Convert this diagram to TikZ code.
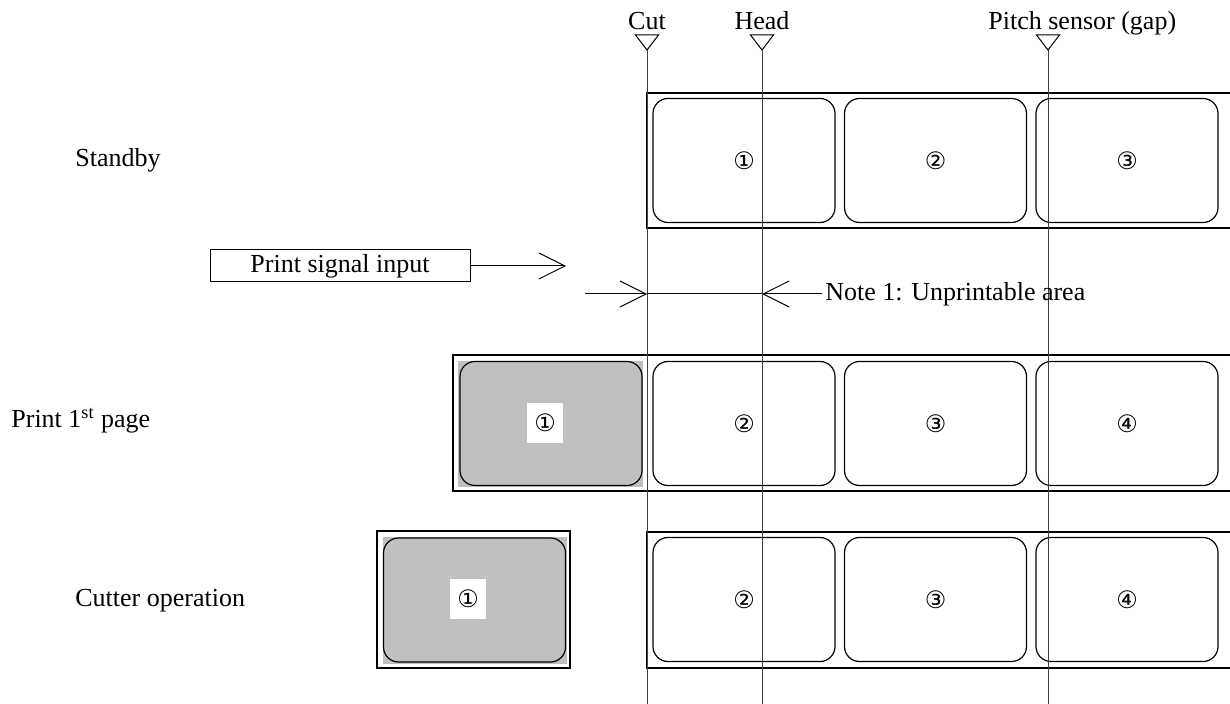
\documentclass[tikz,border=0pt]{standalone}
\usepackage{fontspec}
\setmainfont{Liberation Serif}
\newfontfamily\circfont{DejaVu Sans}
\usetikzlibrary{arrows.meta}
\definecolor{labelgray}{RGB}{192,192,192}

\begin{document}
\begin{tikzpicture}[x=0.5pt, y=-0.5pt, font=\fontsize{13}{15}\selectfont,
    strip/.style={line width=0.8pt},
    labelbox/.style={draw, line width=0.6pt, rounded corners=7.5pt, minimum width=91pt, minimum height=62pt, inner sep=0pt, font=\circfont\fontsize{12}{12}\selectfont},
    whitenum/.style={fill=white, minimum width=18pt, minimum height=20pt, inner sep=0pt, font=\circfont\fontsize{12}{12}\selectfont},
    rowname/.style={anchor=west, inner sep=0pt},
    guide/.style={line width=0.45pt, black!75},
    openarrow/.style={line width=0.5pt, -{Straight Barb[length=13pt, width=13pt, line width=0.5pt]}}
]
\useasboundingbox (0,0) rectangle (1230,704);

% Row names
\node[rowname] (standby) at (75,160) {Standby};
\node[rowname] (printrow) at (11,421) {Print 1\textsuperscript{st} page};
\node[rowname] (cutrow) at (75,601) {Cutter operation};

% Standby strip
\draw[strip] (1230,93) -| (647,228) -- (1230,228);
\foreach \n/\x/\num in {1/744/①, 2/935.5/②, 3/1127/③}
    \node[labelbox] (sb-\n) at (\x,160.5) {\num};

% Print 1st page strip
\draw[strip] (1230,355) -| (453,491) -- (1230,491);
\fill[labelgray] (458,361) rectangle (643,487);
\node[labelbox, fill=labelgray] (pr-1) at (551,423.5) {};
\node[whitenum] (pr-1-num) at (545,423) {①};
\foreach \n/\x/\num in {2/744/②, 3/935.5/③, 4/1127/④}
    \node[labelbox] (pr-\n) at (\x,423.5) {\num};

% Cutter operation
\draw[strip] (377,531) rectangle (570,668);
\fill[labelgray] (383,537) rectangle (567,664);
\node[labelbox, fill=labelgray] (ct-1) at (474.5,600) {};
\node[whitenum] (ct-1-num) at (468,599) {①};
\draw[strip] (1230,532) -| (647,668) -- (1230,668);
\foreach \n/\x/\num in {2/744/②, 3/935.5/③, 4/1127/④}
    \node[labelbox] (ct-\n) at (\x,599.5) {\num};

% Cut, head and sensor positions
\node[anchor=base, inner sep=0pt] (mark-cut) at (647,30) {Cut};
\node[anchor=base, inner sep=0pt] (mark-head) at (762,30) {Head};
\node[anchor=base west, inner sep=0pt] (mark-sensor) at (988,30) {Pitch sensor (gap)};
\foreach \x in {647, 762, 1048} {
    \draw[line width=0.5pt] (\x-11.5,35) -- (\x+11.5,35) -- (\x,50) -- cycle;
    \draw[guide] (\x,50) -- (\x,704);
}

% Print signal
\node[draw, line width=0.5pt, minimum width=130pt, minimum height=16pt, inner sep=0pt] (signal) at (340,266) {Print signal input};
\coordinate (signal end) at (566,266);
\draw[openarrow] (signal.east) -- (signal end);

% Unprintable area
\coordinate (dim left) at (585,294);
\coordinate (dim cut) at (647,294);
\coordinate (dim head) at (762,294);
\node[anchor=west, inner sep=1.5pt] (note) at (822,294) {Note 1: Unprintable area};
\draw[openarrow] (dim left) -- (dim cut);
\draw[line width=0.5pt] (dim cut) -- (dim head);
\draw[openarrow] (note.west) -- (dim head);

\end{tikzpicture}
\end{document}
